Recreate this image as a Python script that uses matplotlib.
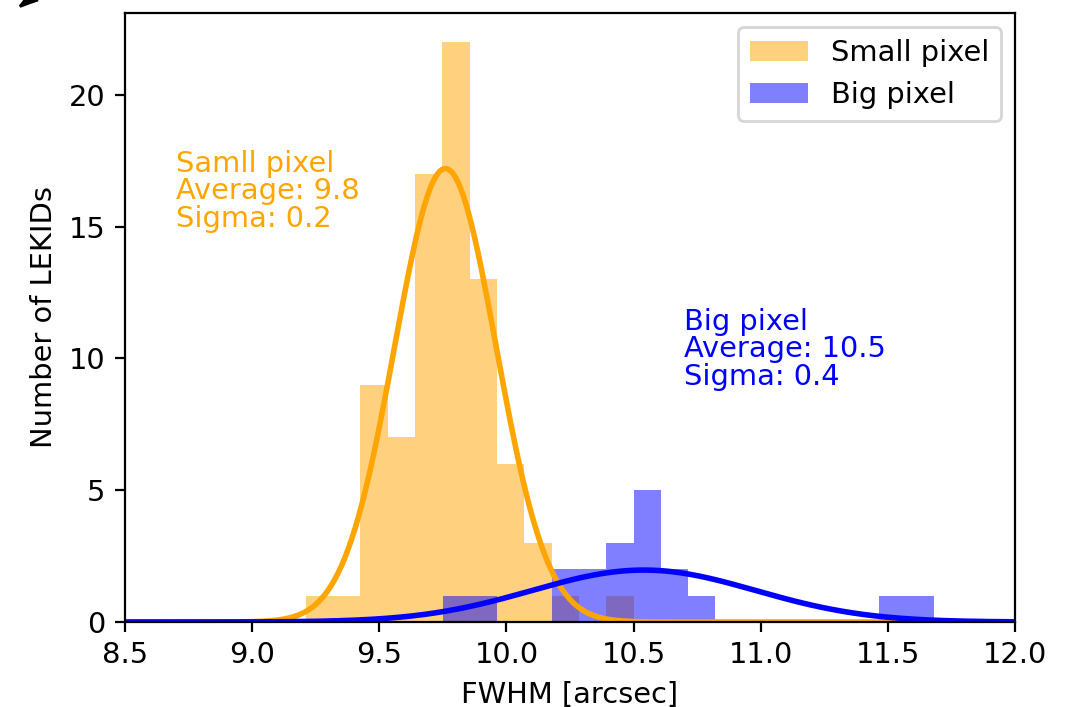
import numpy as np
import matplotlib
matplotlib.use("Agg")
import matplotlib.pyplot as plt
from matplotlib.patches import Polygon

# histogram counts per bin, bins spanning [lo, hi]
small_counts = [1, 1, 9, 7, 17, 22, 13, 6, 3, 1, 0, 1]
small_range = (9.211, 10.501)
big_counts = [1, 1, 0, 0, 2, 2, 3, 5, 2, 1, 0, 0, 0, 0, 0, 0, 1, 1]
big_range = (9.749, 11.680)

# gaussian fit parameters: amplitude, mean, sigma
small_fit = (17.2, 9.76, 0.20)
big_fit = (1.97, 10.54, 0.44)

x_ticks = [8.5, 9.0, 9.5, 10.0, 10.5, 11.0, 11.5, 12.0]

plt.rcParams['font.size'] = 10.4


def gauss(x, a, mu, sig):
    return a * np.exp(-(x - mu) ** 2 / (2 * sig ** 2))


fig = plt.figure(figsize=(1066 / 200, 707 / 200), dpi=200)
ax = fig.add_axes([125 / 1066, 1 - 622 / 707, (1015 - 125) / 1066, (622 - 13) / 707])

small_edges = np.linspace(*small_range, len(small_counts) + 1)
big_edges = np.linspace(*big_range, len(big_counts) + 1)

ax.hist(small_edges[:-1], bins=small_edges, weights=small_counts,
        color='orange', alpha=0.5, label='Small pixel')
ax.hist(big_edges[:-1], bins=big_edges, weights=big_counts,
        color='blue', alpha=0.5, label='Big pixel')

xx = np.linspace(8.5, 12.0, 500)
ax.plot(xx, gauss(xx, *small_fit), color='orange', lw=2)
ax.plot(xx, gauss(xx, *big_fit), color='blue', lw=2)

ax.text(8.7, 15, 'Samll pixel\nAverage: %.1f\nSigma: %.1f' % (small_fit[1], small_fit[2]),
        color='orange', linespacing=0.97)
ax.text(10.7, 9, 'Big pixel\nAverage: %.1f\nSigma: %.1f' % (big_fit[1], big_fit[2]),
        color='blue', linespacing=0.97)

ax.set_xlim(8.5, 12.0)
ax.set_ylim(0, 23.1)
ax.set_xticks(x_ticks)
ax.set_xlabel('FWHM [arcsec]')
ax.set_ylabel('Number of LEKIDs')
ax.legend(loc='upper right')

# arrow tip poking in at the top-left corner
tip = np.array([[20, 6.5], [29, 3], [38, 0], [25, 0]])
fig.patches.append(Polygon(np.column_stack([tip[:, 0] / 1066, 1 - tip[:, 1] / 707]),
                           closed=True, transform=fig.transFigure, color='black'))

plt.savefig('out.png', dpi=200)
